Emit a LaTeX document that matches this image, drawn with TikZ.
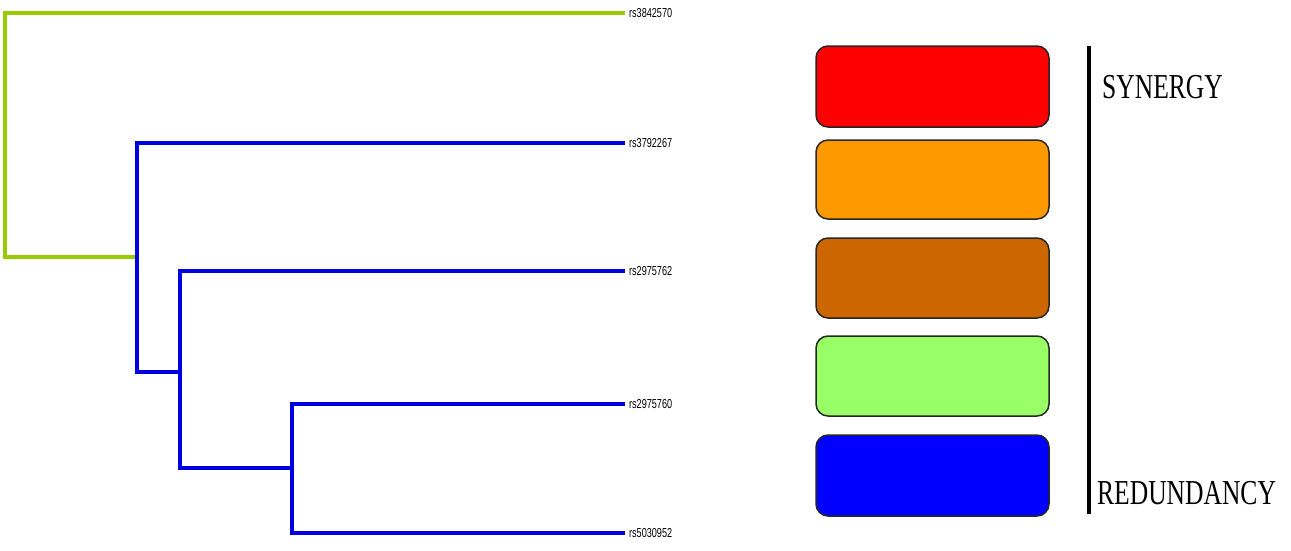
\documentclass[tikz,border=0pt]{standalone}
\usepackage{fontspec}
\setmainfont{Liberation Serif}
\newfontfamily\labfont{Liberation Sans}
\definecolor{treegreen}{HTML}{99CC00}
\definecolor{treeblue}{HTML}{0000E0}
\definecolor{lred}{HTML}{FF0000}
\definecolor{lorange}{HTML}{FF9900}
\definecolor{lbrown}{HTML}{CC6600}
\definecolor{llgreen}{HTML}{99FF66}
\definecolor{lblue}{HTML}{0000FF}
\begin{document}
\begin{tikzpicture}[x=1pt,y=-1pt,
  branch/.style={line width=4pt},
  leaflabel/.style={anchor=west,inner sep=0pt,font=\labfont\fontsize{13}{13}\selectfont,xscale=0.7},
  legbox/.style={draw=black!85,line width=1.5pt,rounded corners=12pt},
  scalelabel/.style={anchor=west,inner sep=0pt,font=\fontsize{35}{35}\selectfont,xscale=0.73}]
\useasboundingbox (0,0) rectangle (1291,550);
% leaves
\coordinate (l1) at (625,13);
\coordinate (l2) at (625,143);
\coordinate (l3) at (625,271);
\coordinate (l4) at (625,404);
\coordinate (l5) at (625,533);
\node[leaflabel] (t1) at (629,13) {rs3842570};
\node[leaflabel] (t2) at (629,143) {rs3792267};
\node[leaflabel] (t3) at (629,271) {rs2975762};
\node[leaflabel] (t4) at (629,404) {rs2975760};
\node[leaflabel] (t5) at (629,533) {rs5030952};
% internal nodes
\coordinate (root) at (5,257);
\coordinate (n1) at (137,257);
\coordinate (n2) at (180,372);
\coordinate (n3) at (292,468);
% tree
\draw[branch,treegreen] (l1) -| (root) -- (n1);
\draw[branch,treeblue] (l2) -| (n1 |- n2) -- (n2);
\draw[branch,treeblue] (n1) -- (n1 |- l2);
\draw[branch,treeblue] (l3) -| (n2 |- n3) -- (n3);
\draw[branch,treeblue] (n2 |- n2) -- (n2 |- l3);
\draw[branch,treeblue] (l4) -| (n3 |- l5) -- (l5);
% legend
\node[legbox,fill=lred,minimum width=233pt,minimum height=81pt] (b1) at (932.5,86.5) {};
\node[legbox,fill=lorange,minimum width=233pt,minimum height=79pt] (b2) at (932.5,179.5) {};
\node[legbox,fill=lbrown,minimum width=233pt,minimum height=80pt] (b3) at (932.5,278) {};
\node[legbox,fill=llgreen,minimum width=233pt,minimum height=80pt] (b4) at (932.5,376) {};
\node[legbox,fill=lblue,minimum width=233pt,minimum height=81pt] (b5) at (932.5,475.5) {};
\coordinate (st) at (1089,46);
\coordinate (sb) at (1089,514);
\draw[line width=4pt,black] (st) -- (sb);
\node[scalelabel] (syn) at (1102,87) {SYNERGY};
\node[scalelabel] (red) at (1097,493) {REDUNDANCY};
\end{tikzpicture}
\end{document}
